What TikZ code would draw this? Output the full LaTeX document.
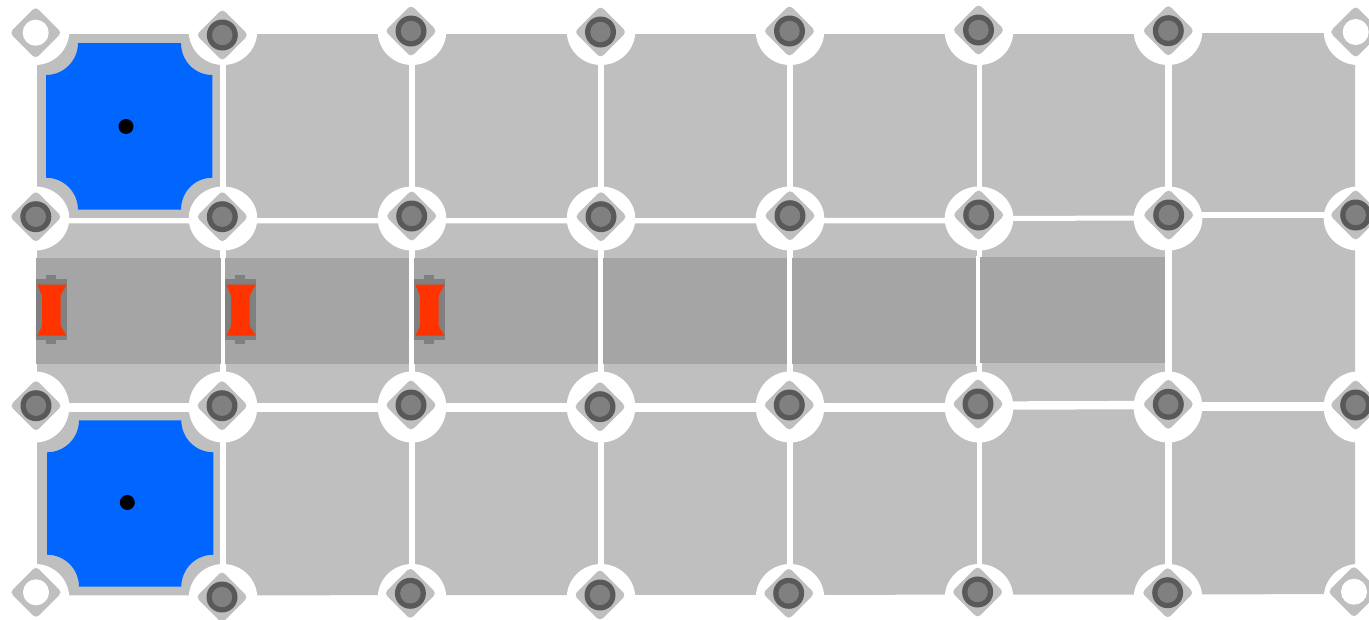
\documentclass[tikz,border=0pt]{standalone}
\definecolor{cellgray}{HTML}{BFBFBF}
\definecolor{bandgray}{HTML}{A5A5A5}
\definecolor{ringgray}{HTML}{595959}
\definecolor{coregray}{HTML}{808080}
\definecolor{padblue}{HTML}{0066FF}
\definecolor{gatered}{HTML}{FF3300}
\tikzset{
  cellfill/.style={fill=cellgray,draw=none},
  bandfill/.style={fill=bandgray,draw=none},
  padfill/.style={fill=padblue,draw=none},
  gapline/.style={draw=white,line cap=butt},
  diamondfill/.style={fill=cellgray,draw=none,rounded corners=4pt},
  holderfill/.style={fill=coregray,draw=none},
  gatefill/.style={fill=gatered,draw=none}
}
\newcommand{\jointmark}[2]{%
  \path[diamondfill] ({#1-26},#2) -- (#1,{#2-26}) -- ({#1+26},#2) -- (#1,{#2+26}) -- cycle;
  \fill[ringgray] (#1,#2) circle[radius=15.5pt];
  \fill[coregray] (#1,#2) circle[radius=10.2pt];}
\newcommand{\openmark}[2]{%
  \path[diamondfill] ({#1-26},#2) -- (#1,{#2-26}) -- ({#1+26},#2) -- (#1,{#2+26}) -- cycle;
  \fill[white] (#1,#2) circle[radius=13pt];}
\newcommand{\carriage}[1]{%
  \path[holderfill] (#1,279) rectangle ({#1+31},340);
  \path[holderfill] ({#1+10},275) rectangle ({#1+20},344);
  \path[gatefill] ({#1+1.4},284.7) -- ({#1+30.6},284.7) -- ({#1+24.6},295.7) -- ({#1+24.6},326) -- ({#1+30.6},335.6)
    -- ({#1+1.4},335.6) -- ({#1+6},326) -- ({#1+6},295.7) -- cycle;}
\begin{document}
\begin{tikzpicture}[x=1pt,y=-1pt]
\useasboundingbox (0,0) rectangle (1369,619);
\fill[white] (0,0) rectangle (1369,619);
% cell field
\path[cellfill] (37,34) -- (1168,34) -- (1168,33) -- (1355,33) -- (1355,594) -- (1168,594.5) -- (37,595.5) -- cycle;
% vertical gaps
\foreach \xx/\ww in {223.2/5.6,411.8/5.4,600.8/5.4,789.8/5.4,979/5,1168.3/6.6}
  \draw[gapline,line width=\ww pt] (\xx,30) -- (\xx,600);
% horizontal gaps
\draw[gapline,line width=5.3pt] (30,220.8) -- (979,220.6);
\draw[gapline,line width=5pt] (979,218.5) -- (1168,218);
\draw[gapline,line width=6pt] (1168,215.2) -- (1360,215.2);
\draw[gapline,line width=9pt] (30,407.6) -- (979,407.6);
\draw[gapline,line width=8.4pt] (979,405.6) -- (1168,405);
\draw[gapline,line width=9pt] (1168,406.5) -- (1360,406.5);
% dark band
\path[bandfill] (36,258) rectangle (979,364);
\path[bandfill] (979,257.2) rectangle (1164.6,363);
\foreach \xx/\ww in {223/4,411.8/4.8,600.8/4.8,789.8/5,978.2/4}
  \draw[gapline,line width=\ww pt] (\xx,256) -- (\xx,366);
% carriages
\carriage{36}
\carriage{225}
\carriage{414}
% halos
\foreach \xx in {35,223,412,601,790,979,1168,1358}{
  \fill[white] (\xx,31) ellipse[x radius=34.3pt,y radius=34pt];
  \fill[white] (\xx,218.5) ellipse[x radius=34.3pt,y radius=32pt];
  \fill[white] (\xx,407) ellipse[x radius=34.3pt,y radius=35.5pt];
  \fill[white] (\xx,598) ellipse[x radius=34.3pt,y radius=34pt];
}
% blue pads
\path[padfill] (78,43) -- (181,43) .. controls (181,60.7) and (194.6,75) .. (212.3,75)
  -- (212.3,177.7) .. controls (194.6,177.7) and (181,192) .. (181,209.7)
  -- (78,209.7) .. controls (78,192) and (63.7,177.7) .. (46,177.7)
  -- (46,75) .. controls (63.7,75) and (78,60.7) .. (78,43) -- cycle;
\path[padfill] (79,420.3) -- (181.3,420.3) .. controls (181.3,438) and (195.6,452.3) .. (213.3,452.3)
  -- (213.3,554.7) .. controls (195.6,554.7) and (181.3,569) .. (181.3,586.7)
  -- (79,586.7) .. controls (79,569) and (64.7,554.7) .. (47,554.7)
  -- (47,452.3) .. controls (64.7,452.3) and (79,438) .. (79,420.3) -- cycle;
\fill[black] (126,126.5) circle[radius=7.5pt];
\fill[black] (127.3,502.5) circle[radius=7.5pt];
% joints
\openmark{35.7}{32.7}
\jointmark{222.3}{35}
\jointmark{411}{31}
\jointmark{600.5}{32}
\jointmark{789.5}{31}
\jointmark{978.5}{30}
\jointmark{1168.3}{30.7}
\openmark{1355.7}{32}
\jointmark{35.8}{216.7}
\jointmark{222.3}{216.7}
\jointmark{411.7}{216}
\jointmark{601}{216.7}
\jointmark{790}{215.7}
\jointmark{978.7}{215}
\jointmark{1168.7}{215}
\jointmark{1355.7}{215}
\jointmark{36}{405.7}
\jointmark{222}{405.7}
\jointmark{411}{405}
\jointmark{600}{406.7}
\jointmark{789.3}{405}
\jointmark{978}{404}
\jointmark{1168.3}{404.3}
\jointmark{1355.7}{405}
\openmark{36}{592.3}
\jointmark{222}{597}
\jointmark{410.4}{593.3}
\jointmark{600}{595}
\jointmark{788.7}{593.3}
\jointmark{977.6}{592}
\jointmark{1167.7}{592.7}
\openmark{1354}{591.7}
\end{tikzpicture}
\end{document}
